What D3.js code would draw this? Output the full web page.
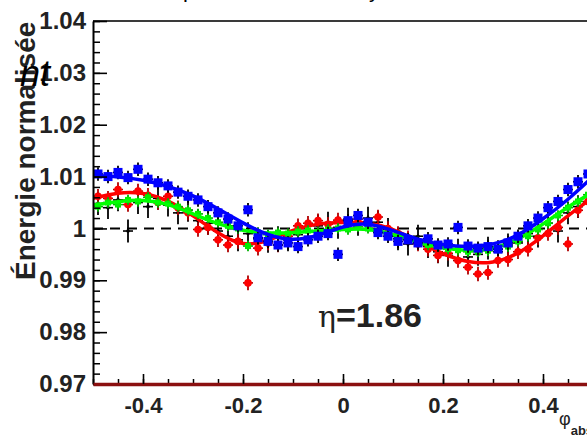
<!DOCTYPE html>
<html>
<head>
<meta charset="utf-8">
<script src="https://cdn.jsdelivr.net/npm/d3@7"></script>
<style>
body { margin: 0; background: #fff; }
svg { display: block; }
text { font-family: "Liberation Sans", Arial, sans-serif; }
</style>
</head>
<body>
<div id="chart"></div>
<script>
// bin centres in phi_abs
var binX = [-0.49, -0.47, -0.45, -0.43, -0.41, -0.39, -0.37, -0.35, -0.33, -0.31,
            -0.29, -0.27, -0.25, -0.23, -0.21, -0.19, -0.17, -0.15, -0.13, -0.11,
            -0.09, -0.07, -0.05, -0.03, -0.01, 0.01, 0.03, 0.05, 0.07, 0.09,
            0.11, 0.13, 0.15, 0.17, 0.19, 0.21, 0.23, 0.25, 0.27, 0.29,
            0.31, 0.33, 0.35, 0.37, 0.39, 0.41, 0.43, 0.45, 0.47, 0.49];

var blueVals = [1.0105, 1.0100, 1.0108, 1.0098, 1.0114, 1.0095, 1.0088, 1.0082, 1.0070, 1.0062,
                1.0055, 1.0042, 1.0030, 1.0018, 1.0005, 1.0036, 0.9982, 0.9975, 0.9968, 0.9972,
                0.9965, 0.9978, 0.9985, 0.9990, 0.9950, 1.0015, 1.0025, 1.0012, 0.9992, 0.9985,
                0.9975, 0.9978, 0.9972, 0.9980, 0.9968, 0.9970, 1.0002, 0.9966, 0.9962, 0.9965,
                0.9960, 0.9972, 0.9985, 1.0005, 1.0020, 1.0040, 1.0052, 1.0075, 1.0090, 1.0105];

var redVals = [1.0062, 1.0058, 1.0075, 1.0046, 1.0072, 1.0064, 1.0050, 1.0062, 1.0040, 1.0030,
               0.9998, 1.0002, 0.9978, 0.9968, 0.9975, 0.9895, 0.9962, 0.9972, 0.9968, 0.9985,
               1.0005, 1.0010, 1.0015, 1.0008, 1.0016, 1.0010, 1.0018, 1.0008, 1.0022, 1.0000,
               0.9990, 0.9982, 0.9970, 0.9960, 0.9948, 0.9952, 0.9938, 0.9925, 0.9912, 0.9915,
               0.9938, 0.9940, 0.9955, 0.9960, 0.9982, 0.9990, 1.0002, 0.9970, 1.0035, 1.0052];

var greenVals = [1.0042, 1.0050, 1.0046, 1.0055, 1.0052, 1.0060, 1.0050, 1.0048, 1.0042, 1.0035,
                 1.0028, 1.0020, 1.0012, 1.0005, 1.0000, 0.9966, 0.9992, 0.9988, 0.9992, 0.9990,
                 0.9994, 0.9996, 0.9993, 0.9998, 1.0000, 0.9998, 1.0003, 1.0000, 0.9996, 0.9990,
                 0.9985, 0.9980, 0.9975, 0.9968, 0.9965, 0.9960, 0.9958, 0.9955, 0.9955, 0.9957,
                 0.9960, 0.9965, 0.9975, 0.9985, 0.9998, 1.0010, 1.0025, 1.0040, 1.0052, 1.0065];

var blackVals = [1.0048, 1.0040, 1.0055, 0.9995, 1.0050, 1.0042, 1.0058, 1.0045, 1.0030, 1.0035,
                 1.0015, 1.0010, 0.9995, 0.9985, 0.9978, 0.9990, 0.9980, 0.9975, 0.9982, 0.9978,
                 0.9988, 0.9995, 1.0005, 1.0010, 1.0002, 1.0018, 1.0008, 1.0020, 1.0012, 0.9998,
                 0.9980, 0.9970, 0.9985, 0.9965, 0.9955, 0.9948, 0.9958, 0.9945, 0.9950, 0.9962,
                 0.9955, 0.9968, 0.9972, 0.9990, 0.9985, 1.0010, 0.9995, 1.0030, 1.0042, 1.0050];

// uncertainties per series
var blueErr = 0.0013, redErr = 0.0014, greenErr = 0.0010, blackErr = 0.0022;

// fit curves sampled every 0.05
var fitX = [-0.5, -0.45, -0.4, -0.35, -0.3, -0.25, -0.2, -0.15, -0.1, -0.05, 0,
            0.05, 0.1, 0.15, 0.2, 0.25, 0.3, 0.35, 0.4, 0.45, 0.5];
var blueFit = [1.0102, 1.0100, 1.0094, 1.0082, 1.0064, 1.0038, 1.0010, 0.9986, 0.9976, 0.9985, 1.0005,
               1.0012, 0.9996, 0.9978, 0.9968, 0.9964, 0.9968, 0.9985, 1.0018, 1.0055, 1.0100];
var redFit = [1.0058, 1.0070, 1.0070, 1.0055, 1.0025, 0.9990, 0.9965, 0.9975, 0.9998, 1.0010, 1.0012,
              1.0012, 1.0000, 0.9975, 0.9950, 0.9934, 0.9932, 0.9950, 0.9985, 1.0025, 1.0060];
var greenFit = [1.0045, 1.0052, 1.0056, 1.0048, 1.0028, 1.0008, 0.9995, 0.9990, 0.9992, 0.9995, 0.9998,
                1.0000, 0.9990, 0.9972, 0.9962, 0.9956, 0.9960, 0.9978, 1.0008, 1.0042, 1.0070];

var yTicks = [0.97, 0.98, 0.99, 1.0, 1.01, 1.02, 1.03, 1.04];
var xTicks = [-0.4, -0.2, 0, 0.2, 0.4];

var width = 587, height = 441;
var margin = {top: 21, left: 93};
var plotW = 500, plotH = 363;

var svg = d3.select("#chart").append("svg")
    .attr("width", width)
    .attr("height", height);

svg.append("rect").attr("width", width).attr("height", height).attr("fill", "#fff");

var x = d3.scaleLinear().domain([-0.5, 0.5]).range([margin.left, margin.left + plotW]);
var y = d3.scaleLinear().domain([0.97, 1.04]).range([margin.top + plotH, margin.top]);

svg.append("clipPath").attr("id", "frame")
  .append("rect")
    .attr("x", margin.left).attr("y", margin.top)
    .attr("width", plotW).attr("height", plotH);

var plot = svg.append("g").attr("clip-path", "url(#frame)");

// reference line at 1
plot.append("line")
    .attr("x1", x(-0.5)).attr("x2", x(0.5))
    .attr("y1", y(1)).attr("y2", y(1))
    .attr("stroke", "#000").attr("stroke-width", 2)
    .attr("stroke-dasharray", "10,7");

function drawSeries(vals, err, barColor, draw) {
    var g = plot.append("g");
    var pts = binX.map(function(bx, i) { return {x: bx, v: vals[i]}; });
    g.selectAll("line.v").data(pts).enter().append("line")
        .attr("x1", d => x(d.x)).attr("x2", d => x(d.x))
        .attr("y1", d => y(d.v - err)).attr("y2", d => y(d.v + err))
        .attr("stroke", barColor).attr("stroke-width", 1.8);
    g.selectAll("line.h").data(pts).enter().append("line")
        .attr("x1", d => x(d.x - 0.01)).attr("x2", d => x(d.x + 0.01))
        .attr("y1", d => y(d.v)).attr("y2", d => y(d.v))
        .attr("stroke", barColor).attr("stroke-width", 1.6);
    draw(g, pts);
}

var line = d3.line().x(d => x(d[0])).y(d => y(d[1])).curve(d3.curveBasis);
function drawFit(vals, color) {
    plot.append("path")
        .datum(fitX.map((fx, i) => [fx, vals[i]]))
        .attr("d", line)
        .attr("fill", "none")
        .attr("stroke", color)
        .attr("stroke-width", 3.5);
}

drawSeries(blackVals, blackErr, "#000", function(g, pts) {
    g.selectAll("circle").data(pts).enter().append("circle")
        .attr("cx", d => x(d.x)).attr("cy", d => y(d.v)).attr("r", 1.8).attr("fill", "#000");
});
drawSeries(redVals, redErr, "#b00000", function(g, pts) {
    g.selectAll("circle").data(pts).enter().append("circle")
        .attr("cx", d => x(d.x)).attr("cy", d => y(d.v)).attr("r", 3.8).attr("fill", "#ff0000");
});
drawFit(redFit, "#ff0000");
drawSeries(greenVals, greenErr, "#00b000", function(g, pts) {
    g.selectAll("rect").data(pts).enter().append("rect")
        .attr("x", d => x(d.x) - 3).attr("y", d => y(d.v) - 3)
        .attr("width", 6).attr("height", 6).attr("fill", "#00ee00");
});
drawFit(greenFit, "#00ff00");
drawSeries(blueVals, blueErr, "#000", function(g, pts) {
    g.selectAll("rect").data(pts).enter().append("rect")
        .attr("x", d => x(d.x) - 4.5).attr("y", d => y(d.v) - 4.5)
        .attr("width", 9).attr("height", 9).attr("fill", "#0000ff");
});
drawFit(blueFit, "#0000ff");

// top frame
svg.append("line")
    .attr("x1", margin.left).attr("x2", width)
    .attr("y1", margin.top).attr("y2", margin.top)
    .attr("stroke", "#3a3a3a").attr("stroke-width", 2);

// y axis: minor then major
var yMinor = d3.range(0.97, 1.0401, 0.002);
svg.append("g")
    .attr("transform", `translate(${margin.left},0)`)
    .call(d3.axisLeft(y).tickValues(yMinor).tickSizeInner(-7).tickSizeOuter(0).tickFormat(""))
    .call(g => g.select(".domain").remove())
    .selectAll("line").attr("stroke-width", 1.5);

var yAxis = svg.append("g")
    .attr("transform", `translate(${margin.left},0)`)
    .call(d3.axisLeft(y).tickValues(yTicks).tickSizeInner(-14).tickSizeOuter(0).tickPadding(7)
        .tickFormat(d => Math.abs(d - 1) < 1e-9 ? "1" : d3.format(".2f")(d)));
yAxis.select(".domain").attr("stroke-width", 2);
yAxis.selectAll("line").attr("stroke-width", 1.6);
yAxis.selectAll("text")
    .attr("font-size", 24).attr("font-weight", "bold").attr("fill", "#222")
    .attr("font-family", "'Liberation Sans', Arial, sans-serif");

// x axis
var xMinor = d3.range(-0.5, 0.5001, 0.05);
svg.append("g")
    .attr("transform", `translate(0,${margin.top + plotH})`)
    .call(d3.axisBottom(x).tickValues(xMinor).tickSizeInner(-5).tickSizeOuter(0).tickFormat(""))
    .call(g => g.select(".domain").remove())
    .selectAll("line").attr("stroke-width", 1.5);

var xAxis = svg.append("g")
    .attr("transform", `translate(0,${margin.top + plotH})`)
    .call(d3.axisBottom(x).tickValues(xTicks).tickSizeInner(-10).tickSizeOuter(0).tickPadding(13)
        .tickFormat(d => d === 0 ? "0" : String(d)));
xAxis.select(".domain").attr("stroke", "#8b1010").attr("stroke-width", 3.5);
xAxis.selectAll("line").attr("stroke-width", 1.6);
xAxis.selectAll("text")
    .attr("font-size", 22).attr("font-weight", "bold").attr("fill", "#222")
    .attr("font-family", "'Liberation Sans', Arial, sans-serif");

// axis titles
svg.append("text")
    .attr("transform", "translate(35,280) rotate(-90)")
    .attr("font-size", 28).attr("font-weight", "bold").attr("fill", "#222")
    .text("Énergie normalisée");

svg.append("text")
    .attr("x", 559).attr("y", 425)
    .attr("font-size", 18).attr("fill", "#222")
    .text("φ")
  .append("tspan")
    .attr("dy", 10).attr("font-size", 13).attr("font-weight", "bold")
    .text("abs");

// annotation
var ann = svg.append("text")
    .attr("x", 318).attr("y", 327)
    .attr("font-size", 34).attr("fill", "#222");
ann.append("tspan").attr("font-family", "'DejaVu Serif', serif").attr("font-size", 30).text("η");
ann.append("tspan").attr("font-weight", "bold").text("=1.86");

// pieces of surrounding text, cut by the crop
svg.append("text")
    .attr("x", 50).attr("y", 86).attr("text-anchor", "end")
    .attr("font-family", "'Open Sans', sans-serif").attr("font-style", "italic")
    .attr("font-size", 36).attr("fill", "#000")
    .text("nt");

svg.append("text").attr("x", 183).attr("y", -3).attr("font-size", 22).attr("fill", "#000").text("p");
svg.append("text").attr("x", 369).attr("y", -3).attr("font-size", 22).attr("fill", "#000").text("y");
</script>
</body>
</html>
